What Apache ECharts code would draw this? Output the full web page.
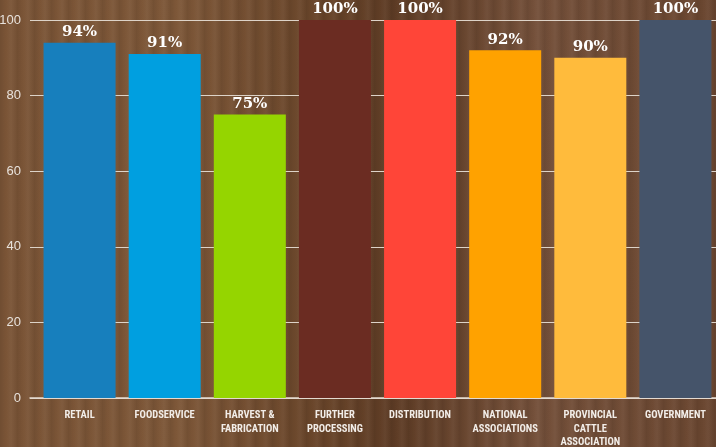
<!DOCTYPE html>
<html>
<head>
<meta charset="utf-8">
<script src="https://cdn.jsdelivr.net/npm/echarts@6/dist/echarts.min.js"></script>
<style>
html,body{margin:0;padding:0;}
#c{width:716px;height:447px;
background:
 repeating-linear-gradient(90deg, rgba(0,0,0,0.08) 0px, rgba(0,0,0,0) 6px, rgba(255,255,255,0.04) 11px, rgba(0,0,0,0.06) 17px),
 linear-gradient(90deg,#7a5436 0%,#7d5738 25%,#684429 45%,#5e3c25 55%,#74503a 75%,#6a4630 100%);}
</style>
</head>
<body>
<div id="c"></div>
<script>
const categories = ["RETAIL","FOODSERVICE","HARVEST &\nFABRICATION","FURTHER\nPROCESSING","DISTRIBUTION","NATIONAL\nASSOCIATIONS","PROVINCIAL\nCATTLE\nASSOCIATION","GOVERNMENT"];
const values = [94, 91, 75, 100, 100, 92, 90, 100];
const colors = ["#177fbd","#009fe0","#95d500","#6b2c22","#ff4538","#ffa200","#ffbb3c","#45546a"];
const yTicks = [0, 20, 40, 60, 80, 100];

const chart = echarts.init(document.getElementById('c'), null, {renderer:'canvas'});
chart.setOption({
  backgroundColor: 'transparent',
  animation: false,
  grid: [
    {left: 30, top: 20, right: 0, bottom: 49, containLabel: false, outerBoundsMode: 'none'},
    {left: 37, top: 20, right: -2, bottom: 49, containLabel: false, outerBoundsMode: 'none'}
  ],
  xAxis: [
    {
      gridIndex: 0, type: 'value', min: 0, max: 1,
      axisLine: {show: true, onZero: false, lineStyle: {color: '#e6ddd2', width: 1.5}},
      axisTick: {show: false}, axisLabel: {show: false}, splitLine: {show: false}
    },
    {
      gridIndex: 1, type: 'category', data: categories,
      axisLine: {show: false},
      axisTick: {show: false},
      axisLabel: {color: '#f2ede8', fontFamily: 'Roboto Condensed, DejaVu Sans Condensed, sans-serif', fontWeight: 'bold', fontSize: 10.5, lineHeight: 13.5, margin: 11, interval: 0}
    }
  ],
  yAxis: [
    {
      gridIndex: 0, type: 'value', min: 0, max: 100, interval: 20,
      axisLine: {show: false}, axisTick: {show: false},
      splitLine: {lineStyle: {color: '#ddd3c8', width: 1}},
      axisLabel: {color: '#e8e2dc', fontFamily: 'Liberation Sans, Arial, sans-serif', fontSize: 13, margin: 9,
        formatter: v => yTicks.includes(v) ? String(v) : ''}
    },
    {
      gridIndex: 1, type: 'value', min: 0, max: 100, interval: 20,
      axisLine: {show: false}, axisTick: {show: false}, splitLine: {show: false}, axisLabel: {show: false}
    }
  ],
  series: [{
    type: 'bar',
    xAxisIndex: 1, yAxisIndex: 1,
    data: values.map((v, i) => ({value: v, itemStyle: {color: colors[i]}})),
    barWidth: 72,
    label: {show: true, position: 'top', distance: 3, formatter: p => p.value + '%', color: '#ffffff',
      fontFamily: 'DejaVu Serif, serif', fontWeight: 'bold', fontSize: 15}
  }]
});
</script>
</body>
</html>
